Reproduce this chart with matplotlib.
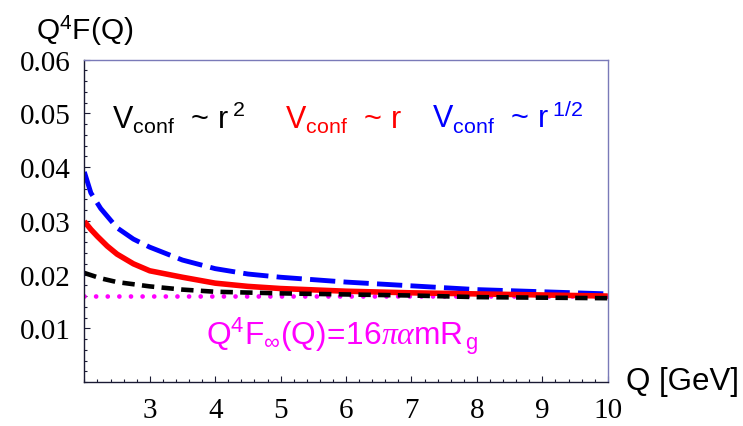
import matplotlib
matplotlib.use("Agg")
import matplotlib.pyplot as plt
from matplotlib.ticker import MultipleLocator, FormatStrFormatter

plt.rcParams['mathtext.fontset'] = 'custom'
plt.rcParams['mathtext.rm'] = 'Liberation Sans'
plt.rcParams['mathtext.it'] = 'Liberation Serif:italic'

# curves
Q_BLUE = [2.0, 2.1, 2.25, 2.5, 2.75, 3.0, 3.5, 4.0, 4.5, 5.0, 6.0, 7.0, 8.0, 9.0, 10.0]
F_BLUE = [0.0391, 0.0352, 0.0323, 0.0287, 0.0266, 0.0251, 0.0227, 0.0211, 0.0201, 0.0195,
          0.0186, 0.0179, 0.0172, 0.0168, 0.0164]

Q_RED = [2.0, 2.1, 2.2, 2.35, 2.5, 2.75, 3.0, 3.5, 4.0, 4.5, 5.0, 6.0, 7.0, 8.0, 9.0, 10.0]
F_RED = [0.0299, 0.0284, 0.0271, 0.0253, 0.0238, 0.0220, 0.0207, 0.0195, 0.0184, 0.0178,
         0.0174, 0.0169, 0.0166, 0.0164, 0.0162, 0.0160]

Q_BLACK = [2.0, 2.25, 2.5, 3.0, 3.5, 4.0, 5.0, 6.0, 7.0, 8.0, 9.0, 10.0]
F_BLACK = [0.0203, 0.0193, 0.0186, 0.0178, 0.0172, 0.0168, 0.0165, 0.0163, 0.0161, 0.0158,
           0.0157, 0.0156]

Q_LIMIT = [2.0, 10.0]
F_LIMIT = [0.0160, 0.0160]

fig = plt.figure(figsize=(7.43, 4.27), dpi=100)
ax = fig.add_axes([0.1135, 0.103, 0.7045, 0.755])

ax.plot(Q_LIMIT, F_LIMIT, color='#ff00ff', lw=3.4, dashes=(0.01, 2.45),
        dash_capstyle='round')
ax.plot(Q_BLUE, F_BLUE, color='#0000ff', lw=3.5, dashes=(5.2, 1.7),
        dash_capstyle='butt')
ax.plot(Q_RED, F_RED, color='#ff0000', lw=4.0, solid_capstyle='butt')
ax.plot(Q_BLACK, F_BLACK, color='black', lw=3.3, dashes=(2.7, 1.6),
        dash_capstyle='butt')

ax.set_xlim(2, 10)
ax.set_ylim(0, 0.06)
ax.xaxis.set_minor_locator(MultipleLocator(0.2))
ax.yaxis.set_minor_locator(MultipleLocator(0.002))
ax.yaxis.set_major_formatter(FormatStrFormatter('%.2f'))
ax.set_xticks([3, 4, 5, 6, 7, 8, 9, 10])
ax.set_yticks([0.01, 0.02, 0.03, 0.04, 0.05, 0.06])

for lab in ax.get_xticklabels() + ax.get_yticklabels():
    lab.set_fontfamily('Liberation Serif')
    lab.set_fontsize(21)
ax.tick_params(which='both', direction='in', top=False, right=False, color='#1a1a33', width=0.8)
ax.tick_params(which='major', length=4.5)
ax.tick_params(which='minor', length=2.5)
ax.tick_params(axis='x', pad=11)
ax.tick_params(axis='y', pad=10)

ax.spines['left'].set_color('#1a1a33')
ax.spines['bottom'].set_color('#1a1a33')
ax.spines['top'].set_color('#7a7ab8')
ax.spines['right'].set_color('#7a7ab8')
for s in ax.spines.values():
    s.set_linewidth(1.0)

fig.text(36 / 743, 1 - 40 / 427, r'Q$^4$F(Q)', fontsize=21.5, family='Liberation Sans',
         ha='left', va='baseline')
fig.text(626 / 743, 1 - 382 / 427, 'Q [GeV]', fontsize=22.5, family='Liberation Sans',
         ha='left', va='center')


def put(txt, x, y, color, size=22):
    ax.annotate(txt, xy=(x / 743, 1 - y / 427), xycoords='figure fraction',
                fontsize=size, family='Liberation Sans', color=color,
                ha='left', va='baseline')


put(r'$\mathrm{V_{conf}}$  ~ $\mathrm{r^{\ 2}}$', 112, 129, 'black')
put(r'$\mathrm{V_{conf}}$  ~ r', 285, 129, '#ff0000')
put(r'$\mathrm{V_{conf}}$  ~ $\mathrm{r^{\ 1/2}}$', 432, 129, '#0000ff')
put(r'$\mathrm{Q^4F_{\infty}(Q)\!=\!16}\pi\alpha\mathrm{mR_{\,g}}$', 206, 345, '#ff00ff', 22.8)

fig.savefig('out.png', dpi=100)
